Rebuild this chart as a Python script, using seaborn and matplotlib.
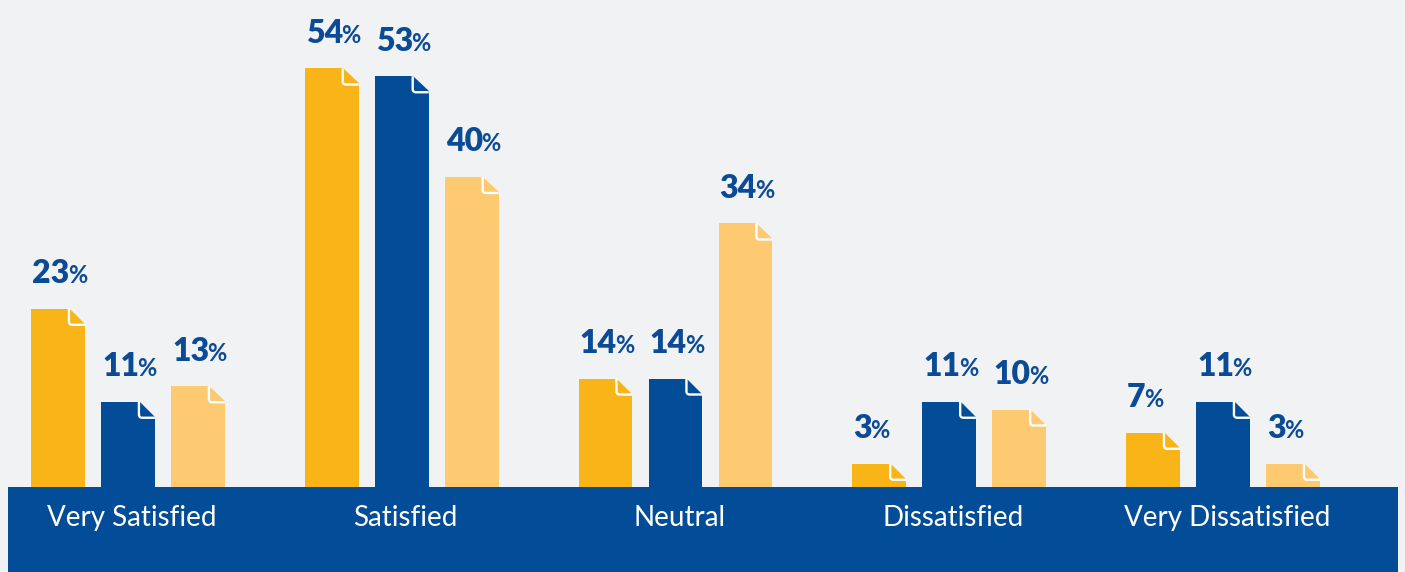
import numpy as np
import pandas as pd
import matplotlib
matplotlib.use("Agg")
import matplotlib.pyplot as plt
import seaborn as sns
from matplotlib.patches import Polygon

# Survey satisfaction results, three series per response category
categories = ["Very Satisfied", "Satisfied", "Neutral", "Dissatisfied", "Very Dissatisfied"]
series = ["Series 1", "Series 2", "Series 3"]
values_1 = [23, 54, 14, 3, 7]
values_2 = [11, 53, 14, 11, 11]
values_3 = [13, 40, 34, 10, 3]
colors = ["#f9b418", "#034c97", "#fdc971"]

BG = "#f1f2f4"
BAND = "#034c97"
LABEL = "#0b4a95"

df = pd.DataFrame({
    "category": categories * 3,
    "series": np.repeat(series, len(categories)),
    "value": values_1 + values_2 + values_3,
})

sns.set_theme(style="white")
plt.rcParams["font.family"] = ["Lato", "DejaVu Sans"]

W, H, DPI = 1405, 572, 100
fig = plt.figure(figsize=(W / DPI, H / DPI), dpi=DPI, facecolor=BG)
ax_left, ax_width = 8, 1390
ax = fig.add_axes([ax_left / W, 0, ax_width / W, 1])
ax.set_facecolor(BG)

sns.barplot(data=df, x="category", y="value", hue="series",
            order=categories, hue_order=series, palette=colors,
            saturation=1, width=0.767, gap=0.23, linewidth=0,
            legend=False, ax=ax, zorder=2)

# scale: pixels per category step and per percent
px_x = 273.75
px_y = 7.75
x0_lim = -120 / px_x
ax.set_xlim(x0_lim, x0_lim + ax_width / px_x)
ylo, yhi = -85 / px_y, 487 / px_y
ax.set_ylim(ylo, yhi)
ax.set_axis_off()

# category band along the baseline
ax.axhspan(ylo, 0, color=BAND, zorder=1, lw=0)
for i, cat in enumerate(categories):
    ax.text(i + 4 / px_x, -39 / px_y, cat, ha="center", va="baseline",
            color="white", fontsize=20)

# folded page corner on each bar
cx, cy = 16 / px_x, 16 / px_y
rx, ry = 3 / px_x, 3 / px_y
theta = np.linspace(np.pi, 1.5 * np.pi, 12)
num_texts = []
for container in ax.containers:
    for bar in container:
        x0 = bar.get_x()
        w = bar.get_width()
        h = bar.get_height()
        r = x0 + w
        ax.add_patch(Polygon([(r - cx, h + 0.05), (r + 0.003, h + 0.05), (r + 0.003, h - cy)],
                             closed=True, facecolor=BG, edgecolor="none", zorder=3))
        ccx, ccy = r - cx + rx, h - cy + ry
        arc_x = ccx + rx * np.cos(theta)
        arc_y = ccy + ry * np.sin(theta)
        px = np.concatenate([[r - cx], arc_x, [r]])
        py = np.concatenate([[h], arc_y, [h - cy]])
        ax.plot(px, py, color="white", lw=1.7, solid_capstyle="butt", zorder=4)

        t = ax.annotate(f"{int(round(h))}", xy=(x0, h), xytext=(0.8, 18.5),
                        textcoords="offset points", ha="left", va="baseline",
                        fontsize=23, fontweight="heavy", color=LABEL, zorder=5)
        num_texts.append((t, x0, h))

fig.canvas.draw()
renderer = fig.canvas.get_renderer()
for t, x0, h in num_texts:
    wpt = t.get_window_extent(renderer).width * 72 / DPI
    ax.annotate("%", xy=(x0, h), xytext=(0.8 + wpt - 1.2, 18.5),
                textcoords="offset points", ha="left", va="baseline",
                fontsize=17, fontweight="bold", color=LABEL, zorder=5)

fig.savefig("out.png", dpi=DPI, facecolor=BG)
